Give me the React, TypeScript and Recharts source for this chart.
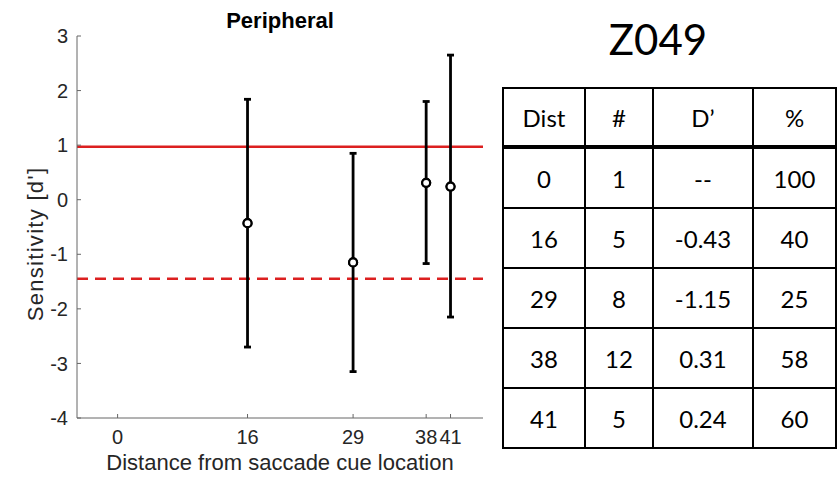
import React from "react";
import {
  ComposedChart, Scatter, ErrorBar, XAxis, YAxis, ReferenceLine, Label,
} from "recharts";

// table + plot values (Z049, peripheral cue)
const dist = [0, 16, 29, 38, 41];
const nTrials = [1, 5, 8, 12, 5];
const dPrimeText = ["--", "-0.43", "-1.15", "0.31", "0.24"];
const pctCorrect = [100, 40, 25, 58, 60];

const dPrime = [null, -0.43, -1.15, 0.31, 0.24];
const ciLow = [null, -2.7, -3.15, -1.17, -2.15];
const ciHigh = [null, 1.84, 0.85, 1.8, 2.65];

const solidRef = 0.97;
const dashedRef = -1.45;

const xTicks = [0, 16, 29, 38, 41];
const yTicks = [-4, -3, -2, -1, 0, 1, 2, 3];

const points = dist
  .map((d, i) => ({ x: d, y: dPrime[i], lo: ciLow[i], hi: ciHigh[i] }))
  .filter(p => p.y !== null)
  .map(p => ({ x: p.x, y: p.y as number, err: [(p.y as number) - (p.lo as number), (p.hi as number) - (p.y as number)] }));

const RED = "#dc2020";
const AXIS = "#666";
const TXT = "#262626";
const FONT = "'Liberation Sans', Arial, sans-serif";

const Marker = (props: any) => {
  const { cx, cy } = props;
  if (cx == null || cy == null) return null;
  return <circle cx={cx} cy={cy} r={4} fill="#fff" stroke="#000" strokeWidth={2.2} />;
};

const YLabel = () => (
  <text
    x={43}
    y={244}
    transform="rotate(-90, 43, 244)"
    textAnchor="middle"
    fill={TXT}
    fontSize={22}
    fontFamily={FONT}
    letterSpacing={1.3}
  >
    Sensitivity [d']
  </text>
);

const colW = [82, 68, 100, 83];
const cell: React.CSSProperties = {
  border: "2.5px solid #000",
  textAlign: "center",
  verticalAlign: "middle",
  padding: 0,
  fontSize: 24,
  height: 58,
};

export default function App() {
  return (
    <div style={{ position: "absolute", left: 0, top: 0, width: 839, height: 477, background: "#fff", overflow: "hidden" }}>
      <div style={{ position: "absolute", left: 0, top: 10, width: 560, textAlign: "center", fontFamily: FONT, fontWeight: "bold", fontSize: 22, lineHeight: "22px", color: "#000" }}>
        Peripheral
      </div>

      <div style={{ position: "absolute", left: 0, top: 0 }}>
        <ComposedChart width={500} height={477} margin={{ top: 36, right: 17, left: 0, bottom: 0 }}>
          <XAxis
            type="number"
            dataKey="x"
            domain={[-5, 45]}
            ticks={xTicks}
            interval={0}
            height={59}
            tickSize={-4}
            tickMargin={16}
            axisLine={{ stroke: AXIS }}
            tickLine={{ stroke: AXIS }}
            tick={{ fill: TXT, fontSize: 20, fontFamily: FONT }}
          >
            <Label value="Distance from saccade cue location" position="insideBottom" offset={7} fill={TXT} fontSize={22} fontFamily={FONT} />
          </XAxis>
          <YAxis
            type="number"
            dataKey="y"
            domain={[-4, 3]}
            ticks={yTicks}
            interval={0}
            width={77}
            tickSize={-4}
            tickMargin={13}
            axisLine={{ stroke: AXIS }}
            tickLine={{ stroke: AXIS }}
            tick={{ fill: TXT, fontSize: 20, fontFamily: FONT }}
          >
            <Label content={<YLabel />} />
          </YAxis>
          <ReferenceLine y={solidRef} stroke={RED} strokeWidth={2.5} />
          <ReferenceLine y={dashedRef} stroke={RED} strokeWidth={2.5} strokeDasharray="11 7" />
          <Scatter data={points} shape={<Marker />} isAnimationActive={false}>
            <ErrorBar dataKey="err" direction="y" width={3.5} stroke="#000" strokeWidth={2.8} isAnimationActive={false} />
          </Scatter>
          <Scatter data={points} shape={<Marker />} isAnimationActive={false} />
        </ComposedChart>
      </div>

      <div style={{ position: "absolute", left: 558, top: 18, width: 200, textAlign: "center", fontFamily: "Lato, 'Open Sans', sans-serif", fontSize: 42, lineHeight: "42px", color: "#000" }}>
        Z049
      </div>

      <table style={{ position: "absolute", left: 502, top: 87, borderCollapse: "collapse", fontFamily: "Lato, 'Open Sans', sans-serif", color: "#000", tableLayout: "fixed", width: 333 }}>
        <colgroup>
          {colW.map((w, i) => <col key={i} style={{ width: w }} />)}
        </colgroup>
        <thead>
          <tr>
            {["Dist", "#", "D\u2019", "%"].map(h => (
              <th key={h} style={{ ...cell, fontWeight: "normal", borderBottom: "4.5px solid #000", height: 56 }}>{h}</th>
            ))}
          </tr>
        </thead>
        <tbody>
          {dist.map((d, i) => (
            <tr key={d}>
              <td style={cell}>{d}</td>
              <td style={cell}>{nTrials[i]}</td>
              <td style={cell}>{dPrimeText[i]}</td>
              <td style={cell}>{pctCorrect[i]}</td>
            </tr>
          ))}
        </tbody>
      </table>
    </div>
  );
}
